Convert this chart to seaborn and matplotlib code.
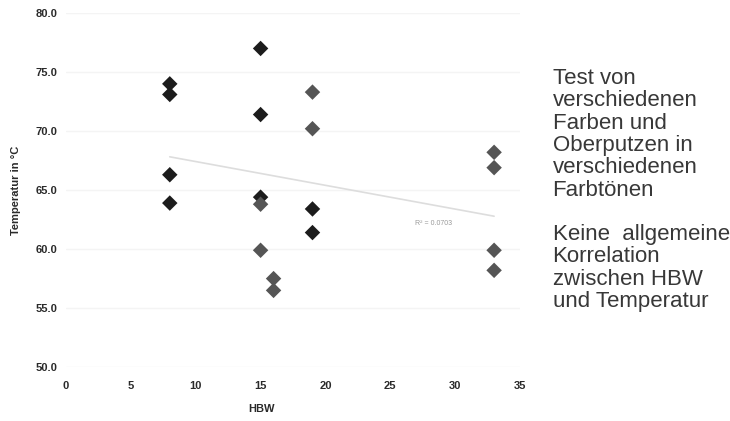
import pandas as pd
import numpy as np
import matplotlib.pyplot as plt
import seaborn as sns

# values
hbw = [8, 8, 8, 8, 15, 15, 15, 15, 15, 16, 16, 19, 19, 19, 19, 33, 33, 33, 33]
temp = [74.0, 73.1, 66.3, 63.9, 77.0, 71.4, 64.4, 63.8, 59.9, 57.5, 56.5,
        73.3, 70.2, 63.4, 61.4, 68.2, 66.9, 59.9, 58.2]
group = ['a', 'a', 'a', 'a', 'a', 'a', 'a', 'b', 'b', 'b', 'b',
         'b', 'b', 'a', 'a', 'b', 'b', 'b', 'b']

x_ticks = [0, 5, 10, 15, 20, 25, 30, 35]
y_ticks = [50, 55, 60, 65, 70, 75, 80]
r2_label = 'R² = 0.0703'

side_text = ('Test von\nverschiedenen\nFarben und\nOberputzen in\nverschiedenen\nFarbtönen\n\n'
             'Keine  allgemeine\nKorrelation\nzwischen HBW\nund Temperatur')

data = pd.DataFrame({'HBW': hbw, 'Temp': temp, 'group': group})

sns.set_style('white')
plt.rcParams['font.family'] = ['Liberation Sans', 'DejaVu Sans']

fig = plt.figure(figsize=(7.3, 4.21), dpi=100)
ax = fig.add_axes([0.0904, 0.128, 0.622, 0.841])

# trend line first so the markers sit on top
sns.regplot(x='HBW', y='Temp', data=data, scatter=False, ci=None, truncate=True,
            line_kws={'color': '#dddddd', 'linewidth': 1.2}, ax=ax)

sns.scatterplot(x='HBW', y='Temp', data=data, hue='group',
                palette={'a': '#1c1c1c', 'b': '#555555'},
                marker='D', s=62, edgecolor='none', legend=False, ax=ax, zorder=3)

ax.set_xlim(0, 35)
ax.set_ylim(50, 80)
ax.set_xticks(x_ticks)
ax.set_yticks(y_ticks)
ax.set_yticklabels([f'{v:.1f}' for v in y_ticks])
ax.tick_params(axis='both', length=0, labelsize=8, colors='#2a2a2a')
ax.tick_params(axis='x', pad=10)
ax.tick_params(axis='y', pad=6)
for lab in ax.get_xticklabels() + ax.get_yticklabels():
    lab.set_fontweight('bold')

ax.grid(axis='y', color='#f4f4f4', linewidth=1)
sns.despine(ax=ax, left=True, bottom=True)

ax.set_xlabel('HBW', fontsize=8, fontweight='bold', color='#2a2a2a')
ax.set_ylabel('Temperatur in °C', fontsize=8, fontweight='bold', color='#2a2a2a')
ax.xaxis.set_label_coords(0.43, -0.105)
ax.yaxis.set_label_coords(-0.099, 0.5)

ax.text(28.3, 62.2, r2_label, fontsize=5, color='#999999', ha='center', va='center')

fig.text(0.757, 0.838, side_text, fontsize=16, color='#383838',
         ha='left', va='top', linespacing=1.08)

fig.savefig('out.png', dpi=100)
